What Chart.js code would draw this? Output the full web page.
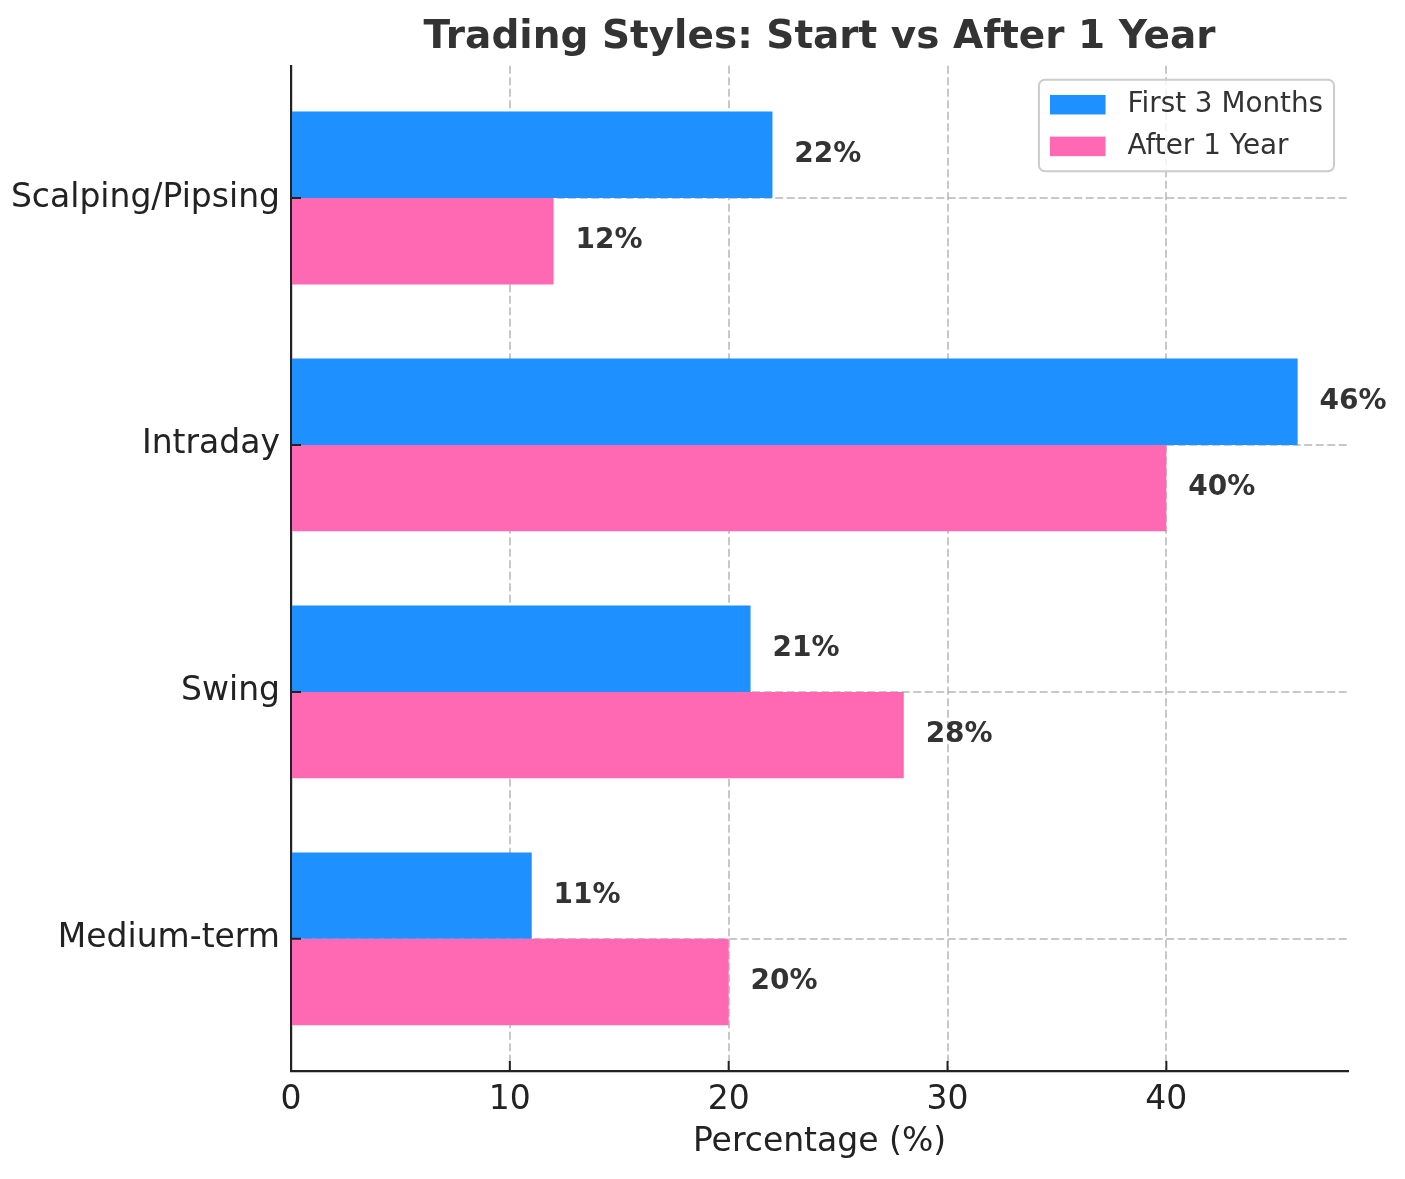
<!DOCTYPE html>
<html>
<head>
<meta charset="utf-8">
<script src="https://cdn.jsdelivr.net/npm/chart.js@4"></script>
<style>
  html, body { margin: 0; padding: 0; background: #fff; }
  canvas { display: block; }
</style>
</head>
<body>
<canvas id="chart" width="1405" height="1179"></canvas>
<script>
// data
const categories = ['Scalping/Pipsing', 'Intraday', 'Swing', 'Medium-term'];
const firstThreeMonths = [22, 46, 21, 11];
const afterOneYear = [12, 40, 28, 20];
const seriesNames = ['First 3 Months', 'After 1 Year'];
const seriesColors = ['#1E90FF', '#FF69B4'];

const FONT = "'DejaVu Sans', sans-serif";
const gridColor = 'rgba(176, 176, 176, 0.7)';
const axisColor = '#222';

function toPoints(values) {
    return values.map((v, i) => ({ x: v, y: i }));
}

// short ticks pointing into the plot, like the original
const inwardTicks = {
    id: 'inwardTicks',
    afterDraw(chart) {
        const { ctx, chartArea, scales: { x, y } } = chart;
        ctx.save();
        ctx.strokeStyle = axisColor;
        ctx.lineWidth = 2;
        ctx.beginPath();
        x.ticks.forEach(t => {
            const px = x.getPixelForValue(t.value);
            ctx.moveTo(px, chartArea.bottom);
            ctx.lineTo(px, chartArea.bottom - 10);
        });
        y.ticks.forEach(t => {
            const py = y.getPixelForValue(t.value);
            ctx.moveTo(chartArea.left, py);
            ctx.lineTo(chartArea.left + 10, py);
        });
        ctx.stroke();
        ctx.restore();
    }
};

// bold "22%" labels right of every bar
const valueLabels = {
    id: 'valueLabels',
    afterDraw(chart) {
        const { ctx, scales: { x } } = chart;
        ctx.save();
        ctx.font = 'bold 28px ' + FONT;
        ctx.fillStyle = '#333';
        ctx.textAlign = 'left';
        ctx.textBaseline = 'middle';
        chart.data.datasets.forEach((ds, di) => {
            chart.getDatasetMeta(di).data.forEach((bar, i) => {
                const v = ds.data[i].x;
                ctx.fillText(v + '%', x.getPixelForValue(v + 1), bar.y);
            });
        });
        ctx.restore();
    }
};

// framed legend in the upper right corner of the plot
const boxedLegend = {
    id: 'boxedLegend',
    afterDraw(chart) {
        const { ctx, chartArea } = chart;
        const datasets = chart.data.datasets;
        const fs = 27.8, pad = 11, handleW = 55.6, handleH = 19.5, textPad = 22, rowGap = 13.9;
        ctx.save();
        ctx.font = fs + 'px ' + FONT;
        const textW = Math.max(...datasets.map(d => ctx.measureText(d.label).width));
        const w = pad + handleW + textPad + textW + pad;
        const h = pad * 2 + fs * datasets.length + rowGap * (datasets.length - 1);
        const left = chartArea.right - 14 - w;
        const top = chartArea.top + 14;
        ctx.beginPath();
        ctx.roundRect(left, top, w, h, 6);
        ctx.fillStyle = 'rgba(255, 255, 255, 0.8)';
        ctx.fill();
        ctx.strokeStyle = '#cccccc';
        ctx.lineWidth = 2;
        ctx.stroke();
        ctx.textAlign = 'left';
        ctx.textBaseline = 'middle';
        datasets.forEach((ds, i) => {
            const cy = top + pad + fs / 2 + i * (fs + rowGap);
            ctx.fillStyle = ds.backgroundColor;
            ctx.fillRect(left + pad, cy - handleH / 2, handleW, handleH);
            ctx.fillStyle = '#333';
            ctx.fillText(ds.label, left + pad + handleW + textPad, cy);
        });
        ctx.restore();
    }
};

new Chart(document.getElementById('chart'), {
    type: 'bar',
    data: {
        datasets: [{
            label: seriesNames[0],
            data: toPoints(firstThreeMonths),
            backgroundColor: seriesColors[0],
            categoryPercentage: 0.7,
            barPercentage: 1.0,
            borderWidth: 0
        }, {
            label: seriesNames[1],
            data: toPoints(afterOneYear),
            backgroundColor: seriesColors[1],
            categoryPercentage: 0.7,
            barPercentage: 1.0,
            borderWidth: 0
        }]
    },
    options: {
        indexAxis: 'y',
        responsive: false,
        devicePixelRatio: 1,
        animation: false,
        layout: { padding: { top: 0, right: 57, bottom: 0, left: 0 } },
        plugins: {
            legend: { display: false },
            tooltip: { enabled: false },
            title: {
                display: true,
                fullSize: false,
                text: 'Trading Styles: Start vs After 1 Year',
                color: '#333',
                font: { family: FONT, size: 39, weight: 'bold', lineHeight: 1.2 },
                padding: { top: 14, bottom: 5 }
            }
        },
        scales: {
            x: {
                type: 'linear',
                position: 'bottom',
                min: 0,
                max: 48.3,
                z: 1,
                afterFit: s => { s.height = 108; },
                ticks: {
                    stepSize: 10,
                    includeBounds: false,
                    padding: 10,
                    color: axisColor,
                    font: { family: FONT, size: 33 }
                },
                grid: {
                    color: c => (c.tick && c.tick.value === 0) ? 'rgba(0,0,0,0)' : gridColor,
                    lineWidth: 2,
                    drawTicks: false
                },
                border: { display: true, color: axisColor, width: 2.2, dash: [8, 3.5] },
                title: {
                    display: true,
                    text: 'Percentage (%)',
                    color: axisColor,
                    font: { family: FONT, size: 33 },
                    padding: { top: 0, bottom: 17 }
                }
            },
            y: {
                type: 'linear',
                position: 'left',
                reverse: true,
                offset: false,
                min: -0.535,
                max: 3.535,
                z: 1,
                afterFit: s => { s.width = 291; },
                afterBuildTicks: s => { s.ticks = categories.map((c, i) => ({ value: i })); },
                ticks: {
                    callback: v => categories[v],
                    padding: 11,
                    color: axisColor,
                    font: { family: FONT, size: 33 }
                },
                grid: { color: gridColor, lineWidth: 2, drawTicks: false, offset: false },
                border: { display: true, color: axisColor, width: 2.2, dash: [8, 3.5] }
            }
        }
    },
    plugins: [inwardTicks, valueLabels, boxedLegend]
});
</script>
</body>
</html>
